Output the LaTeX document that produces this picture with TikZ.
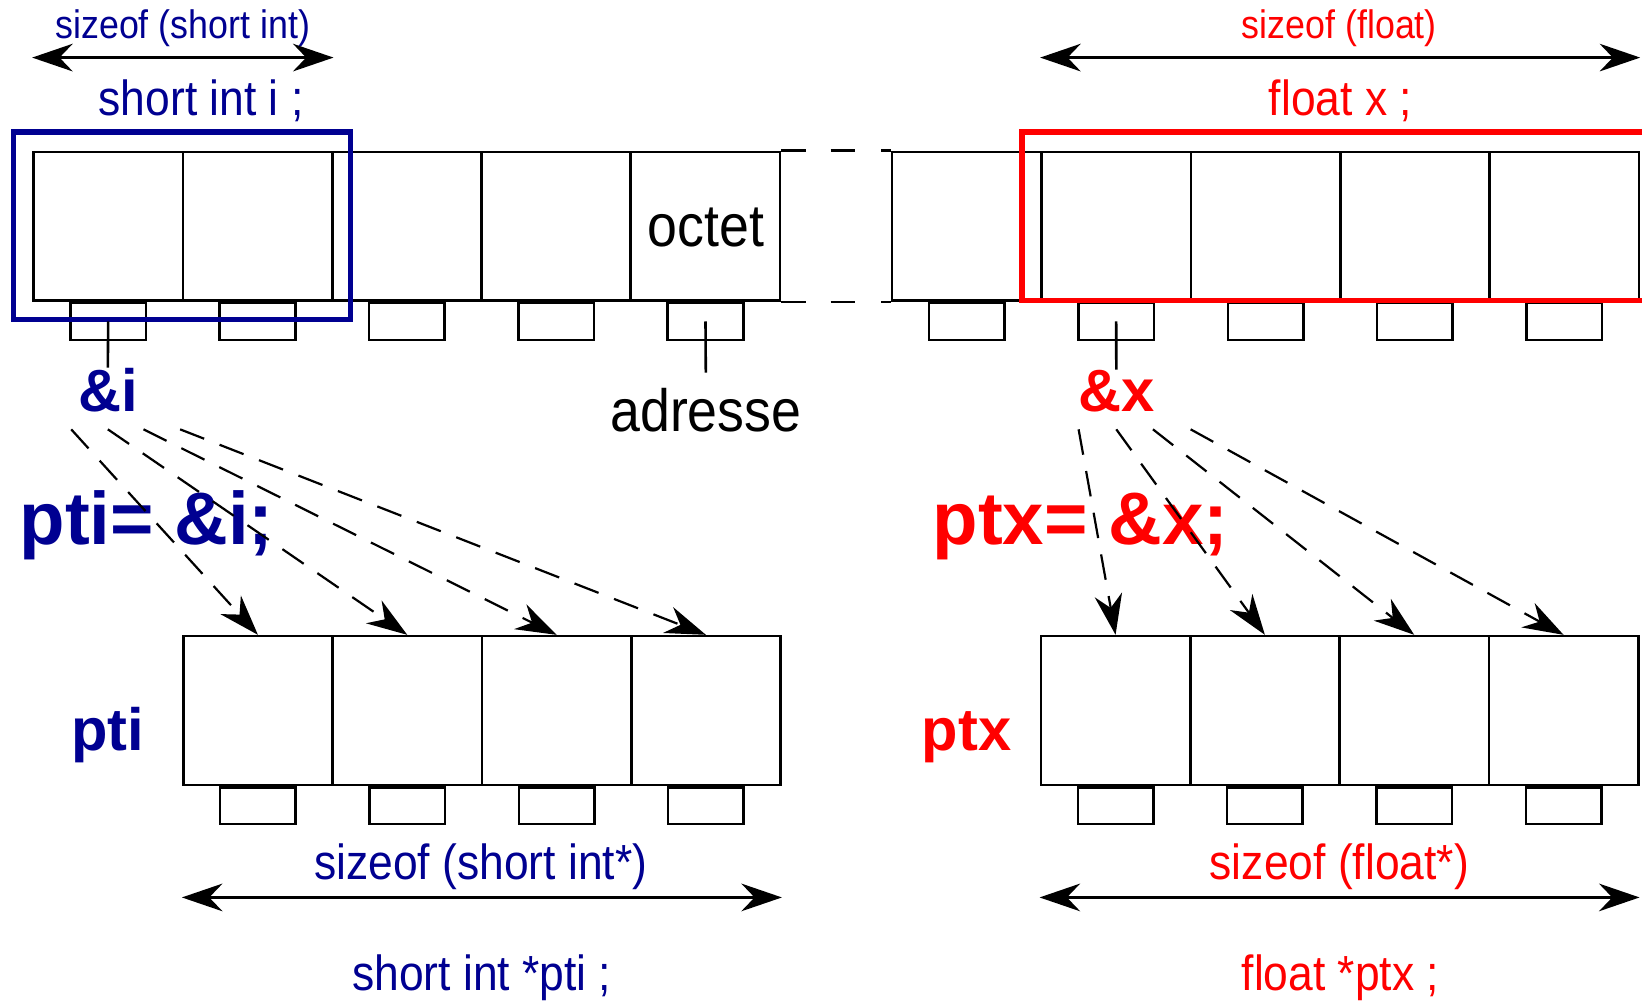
\documentclass[tikz,border=0pt]{standalone}
\usepackage{fontspec}
\usepackage{tikz}
\usetikzlibrary{arrows.meta}
\usetikzlibrary{positioning}
\newfontfamily\narrowsf{Liberation Sans}[FakeStretch=0.9]
\newfontfamily\boldsf{Liberation Sans}
\definecolor{ptblue}{RGB}{0,0,145}
\tikzset{
  cell/.style={draw, line width=0.7pt, inner sep=0pt, minimum width=1.426cm, minimum height=1.42cm},
  addr/.style={draw, line width=0.7pt, inner sep=0pt, minimum width=0.72cm, minimum height=0.35cm},
  szlab/.style={anchor=base, font=\narrowsf\fontsize{10.8}{13}\selectfont},
  decl/.style={anchor=base, font=\narrowsf\fontsize{13.4}{16}\selectfont},
  plain/.style={anchor=base, font=\narrowsf\fontsize{16.2}{19}\selectfont},
  vname/.style={anchor=base, font=\boldsf\bfseries\fontsize{16.2}{19}\selectfont},
  assign/.style={anchor=base west, inner sep=0pt, font=\boldsf\bfseries\fontsize{20.2}{24}\selectfont},
  span/.style={{Stealth[length=11pt,width=7.5pt]}-{Stealth[length=11pt,width=7.5pt]}, line width=0.7pt},
  ptr/.style={-{Stealth[length=11pt,width=7.5pt]}, line width=0.6pt, dash pattern=on 7pt off 4.5pt},
  gapline/.style={line width=0.7pt, dash pattern=on 2.3mm off 2.4mm on 2.3mm off 2.5mm on 2mm},
}

\begin{document}
\begin{tikzpicture}[x=0.01cm, y=-0.01cm]
  \useasboundingbox (0,0) rectangle (1568,955);
  \coordinate (top) at (0,55);
  \coordinate (bot) at (0,857);
  %
  % MEMORY
  \foreach \k in {1,...,5}
    \node[cell] (m\k) at ({103.3+142.6*(\k-1)},216) {};
  \foreach \k in {6,...,10}
    \node[cell] (m\k) at ({923.3+142.6*(\k-6)},216) {};
  \foreach \k in {1,...,10}
    \node[addr, below=0pt of m\k] (a\k) {};
  \draw[gapline] (m5.north east) -- (m6.north west);
  \draw[gapline] (m5.south east) -- (m6.south west);
  \node[plain] (octet) at (674,235) {octet};
  \node[plain, inner sep=4pt] (adresse) at (674,412) {adresse};
  \draw[line width=0.7pt] (a5.center) -- (adresse.north);
  %
  % SHORT INT i
  \node[szlab, text=ptblue] (szi) at (174.5,37) {sizeof (short int)};
  \draw[span] (m1.west |- top) -- (m2.east |- top);
  \node[decl, text=ptblue] (decli) at (192,110) {short int i ;};
  \draw[ptblue, line width=1.4pt] (13,126) rectangle (335,305);
  \node[vname, text=ptblue, inner sep=0pt] (refi) at (103,393) {\&i};
  \draw[line width=0.7pt] (a1.center) -- (refi.north);
  %
  % FLOAT x
  \node[szlab, text=red] (szx) at (1279,37) {sizeof (float)};
  \draw[span] (m7.west |- top) -- (m10.east |- top);
  \node[decl, text=red] (declx) at (1280,110) {float x ;};
  \draw[red, line width=1.4pt] (1568,126) -- (976,126) -- (976,287) -- (1568,287);
  \node[vname, text=red, inner sep=0pt] (refx) at (1066,393) {\&x};
  \draw[line width=0.7pt] (a7.center) -- (refx.north);
  %
  % POINTER pti
  \foreach \k in {1,...,4}
    \node[cell] (pi\k) at ({246.3+142.6*(\k-1)},678.5) {};
  \foreach \k in {1,...,4}
    \node[addr, below=0pt of pi\k] (api\k) {};
  \node[vname, text=ptblue] (ptilab) at (103,717) {pti};
  \node[assign, text=ptblue] (asgi) at (18,520) {pti= \&i;};
  \coordinate (si1) at (68,410);
  \coordinate (si2) at (103,410);
  \coordinate (si3) at (137,410);
  \coordinate (si4) at (172,410);
  \foreach \k in {1,...,4}
    \draw[ptr] (si\k) -- (pi\k.north);
  \draw[span] (pi1.west |- bot) -- (pi4.east |- bot);
  \node[decl, text=ptblue] (szpi) at (459,840) {sizeof (short int*)};
  \node[decl, text=ptblue] (declpi) at (460,946) {short int *pti ;};
  %
  % POINTER ptx
  \foreach \k in {1,...,4}
    \node[cell] (px\k) at ({1065.3+142.6*(\k-1)},678.5) {};
  \foreach \k in {1,...,4}
    \node[addr, below=0pt of px\k] (apx\k) {};
  \node[vname, text=red] (ptxlab) at (923,717) {ptx};
  \node[assign, text=red] (asgx) at (890,520) {ptx= \&x;};
  \coordinate (sx1) at (1030,410);
  \coordinate (sx2) at (1066,410);
  \coordinate (sx3) at (1101,410);
  \coordinate (sx4) at (1137,410);
  \foreach \k in {1,...,4}
    \draw[ptr] (sx\k) -- (px\k.north);
  \draw[span] (px1.west |- bot) -- (px4.east |- bot);
  \node[decl, text=red] (szpx) at (1279,840) {sizeof (float*)};
  \node[decl, text=red] (declpx) at (1280,946) {float *ptx ;};
  %
\end{tikzpicture}
\end{document}
